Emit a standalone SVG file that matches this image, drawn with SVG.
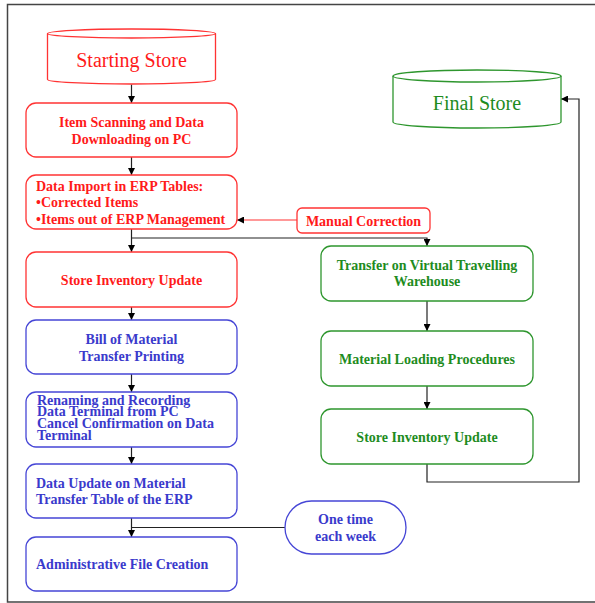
<svg xmlns="http://www.w3.org/2000/svg" width="595" height="603" viewBox="0 0 595 603">
  <style>
    .red { stroke: #ff3333; }
    .blue { stroke: #4646d6; }
    .green { stroke: #2e962e; }
    .box { fill: #ffffff; stroke-width: 1.3; }
    .t { font-family: "Liberation Serif", "Times New Roman", serif; font-weight: bold; font-size: 14px; }
    .tl { font-family: "Liberation Serif", "Times New Roman", serif; font-size: 20px; }
    .tr { fill: #ff1a1a; }
    .tb { fill: #3a3acc; }
    .tg { fill: #1e8c1e; }
    .c { text-anchor: middle; }
    .wire { fill: none; stroke: #222222; stroke-width: 1.2; }
  </style>
  <defs>
    <marker id="arrow" markerUnits="userSpaceOnUse" markerWidth="7" markerHeight="7" refX="7" refY="3.5" orient="auto">
      <path d="M0,0 L7,3.5 L0,7 z" fill="#000000"/>
    </marker>
  </defs>

  <rect width="595" height="603" fill="#ffffff"/>

  <!-- outer frame -->
  <path d="M596,4.5 H7.5 V602 H596" fill="none" stroke="#444444" stroke-width="1.5"/>

  <!-- connectors -->
  <g id="connectors">
    <path class="wire" d="M131.5,84.5 V103" marker-end="url(#arrow)"/>
    <path class="wire" d="M131.5,157 V175" marker-end="url(#arrow)"/>
    <path d="M297,220 H237" fill="none" stroke="#ff3333" stroke-width="1.2" marker-end="url(#arrow)"/>
    <path class="wire" d="M131.5,229 V252" marker-end="url(#arrow)"/>
    <path class="wire" d="M131.5,238 H427 V246" marker-end="url(#arrow)"/>
    <path class="wire" d="M131.5,307 V320" marker-end="url(#arrow)"/>
    <path class="wire" d="M131.5,374 V392" marker-end="url(#arrow)"/>
    <path class="wire" d="M131.5,447 V464" marker-end="url(#arrow)"/>
    <path class="wire" d="M131.5,518 V537" marker-end="url(#arrow)"/>
    <path class="wire" d="M285,527.5 H131.5"/>
    <path class="wire" d="M427,301 V331" marker-end="url(#arrow)"/>
    <path class="wire" d="M427,386 V409" marker-end="url(#arrow)"/>
    <path class="wire" d="M427,464 V482 H579 V99 H561" marker-end="url(#arrow)"/>
  </g>

  <!-- stores -->
  <g id="starting-store">
    <path class="box red" d="M47.5,33.5 A84,4.5 0 0 1 215.5,33.5 V79.5 A84,4.5 0 0 1 47.5,79.5 Z"/>
    <path d="M47.5,33.5 A84,4.5 0 0 0 215.5,33.5" fill="none" stroke="#ff3333" stroke-width="1.3"/>
    <text class="tl tr c" x="131.5" y="67">Starting Store</text>
  </g>

  <g id="final-store">
    <path class="box green" d="M393,76 A84,6 0 0 1 561,76 V122 A84,6 0 0 1 393,122 Z"/>
    <path d="M393,76 A84,6 0 0 0 561,76" fill="none" stroke="#2e962e" stroke-width="1.3"/>
    <text class="tl tg c" x="477" y="110">Final Store</text>
  </g>

  <!-- left column -->
  <g id="item-scanning">
    <rect class="box red" x="26" y="103" width="211" height="54" rx="10"/>
    <text class="t tr c" x="131.5" y="127">Item Scanning and Data</text>
    <text class="t tr c" x="131.5" y="143.5">Downloading on PC</text>
  </g>

  <g id="data-import">
    <rect class="box red" x="26" y="175" width="211" height="54" rx="10"/>
    <text class="t tr" x="36" y="190.5">Data Import in ERP Tables:</text>
    <text class="t tr" x="36" y="207">•Corrected Items</text>
    <text class="t tr" x="36" y="223.5">•Items out of ERP Management</text>
  </g>

  <g id="manual-correction">
    <rect class="box red" x="297" y="208" width="133" height="25" rx="5"/>
    <text class="t tr c" x="363.5" y="226">Manual Correction</text>
  </g>

  <g id="store-inventory-update-start">
    <rect class="box red" x="26" y="252" width="211" height="55" rx="10"/>
    <text class="t tr c" x="131.5" y="285">Store Inventory Update</text>
  </g>

  <g id="bill-of-material">
    <rect class="box blue" x="26" y="320" width="211" height="54" rx="10"/>
    <text class="t tb c" x="131.5" y="343.5">Bill of Material</text>
    <text class="t tb c" x="131.5" y="361">Transfer Printing</text>
  </g>

  <g id="renaming-recording">
    <rect class="box blue" x="26" y="392" width="211" height="55" rx="10"/>
    <text class="t tb" x="37" y="404.5">Renaming and Recording</text>
    <text class="t tb" x="37" y="416">Data Terminal from PC</text>
    <text class="t tb" x="37" y="428">Cancel Confirmation on Data</text>
    <text class="t tb" x="37" y="439.5">Terminal</text>
  </g>

  <g id="data-update">
    <rect class="box blue" x="26" y="464" width="211" height="54" rx="10"/>
    <text class="t tb" x="36" y="487.5">Data Update on Material</text>
    <text class="t tb" x="36" y="504">Transfer Table of the ERP</text>
  </g>

  <g id="one-time-each-week">
    <rect class="box blue" x="285" y="501" width="121" height="53" rx="26.5"/>
    <text class="t tb c" x="345.5" y="524">One time</text>
    <text class="t tb c" x="345.5" y="540.5">each week</text>
  </g>

  <g id="administrative-file">
    <rect class="box blue" x="26" y="537" width="211" height="54" rx="10"/>
    <text class="t tb" x="36" y="568.5">Administrative File Creation</text>
  </g>

  <!-- right column -->
  <g id="transfer-virtual-warehouse">
    <rect class="box green" x="321" y="246" width="212" height="55" rx="10"/>
    <text class="t tg c" x="427" y="269.5">Transfer on Virtual Travelling</text>
    <text class="t tg c" x="427" y="286">Warehouse</text>
  </g>

  <g id="material-loading">
    <rect class="box green" x="321" y="331" width="212" height="55" rx="10"/>
    <text class="t tg c" x="427" y="363.5">Material Loading Procedures</text>
  </g>

  <g id="store-inventory-update-final">
    <rect class="box green" x="321" y="409" width="212" height="55" rx="10"/>
    <text class="t tg c" x="427" y="442">Store Inventory Update</text>
  </g>
</svg>
